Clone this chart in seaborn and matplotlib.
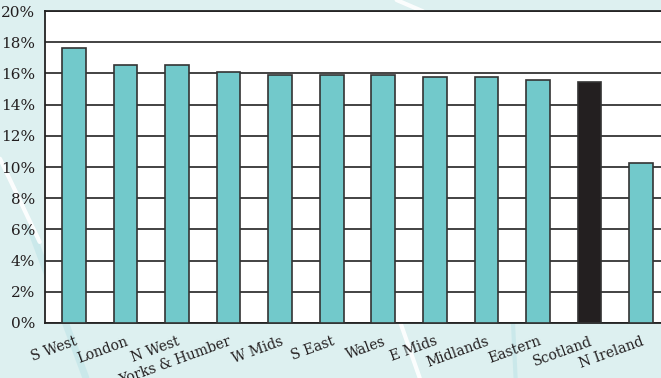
import matplotlib
matplotlib.use("Agg")
import matplotlib.pyplot as plt
import seaborn as sns
import pandas as pd
from matplotlib.ticker import FuncFormatter, MultipleLocator
from matplotlib.lines import Line2D

regions = ["S West", "London", "N West", "Yorks & Humber", "W Mids", "S East",
           "Wales", "E Mids", "Midlands", "Eastern", "Scotland", "N Ireland"]
values = [17.6, 16.55, 16.55, 16.1, 15.9, 15.9, 15.9, 15.8, 15.8, 15.6, 15.45, 10.25]
highlight = "Scotland"

teal = "#72C9CB"
dark = "#231F20"
bg = "#DDF0F0"

sns.set_theme(style="white")
plt.rcParams["font.family"] = ["DejaVu Serif"]

df = pd.DataFrame({"region": regions, "value": values})
palette = {r: (dark if r == highlight else teal) for r in regions}

fig = plt.figure(figsize=(6.61, 3.78), dpi=100)
fig.patch.set_facecolor(bg)

# decorative background strokes (figure fraction coords)
for (x0, y0, x1, y1, w, c) in [
        (0.045, 0.40, 0.13, 0.0, 5, "#C8E8EA"),
        (0.605, 0.15, 0.635, 0.0, 3, "white"),
        (0.776, 0.15, 0.78, 0.0, 3, "#C8E8EA"),
        (0.0, 0.58, 0.06, 0.36, 3, "white"),
        (0.60, 1.0, 0.64, 0.97, 3, "white")]:
    fig.add_artist(Line2D([x0, x1], [y0, y1], color=c, lw=w, alpha=0.9,
                          transform=fig.transFigure, zorder=0))

ax = fig.add_axes([45 / 661, 55 / 378, 625 / 661, 312 / 378])
ax.set_facecolor("white")
ax.set_zorder(1)

sns.barplot(data=df, x="region", y="value", hue="region", palette=palette,
            legend=False, width=0.46, edgecolor="#333333", linewidth=1.2,
            saturation=1, ax=ax, zorder=3)

ax.set_ylim(0, 20)
ax.set_xlim(-0.56, 11.56)
ax.yaxis.set_major_locator(MultipleLocator(2))
ax.yaxis.set_major_formatter(FuncFormatter(lambda v, p: f"{int(round(v))}%"))
ax.grid(axis="y", color="#222222", linewidth=1.2, zorder=0)
ax.set_axisbelow(True)
ax.spines["right"].set_visible(False)
for s in ["left", "bottom", "top"]:
    ax.spines[s].set_color("#222222")
    ax.spines[s].set_linewidth(1.3)
ax.set_xlabel("")
ax.set_ylabel("")
ax.tick_params(axis="both", length=0, colors="#231F20")
ax.tick_params(axis="y", labelsize=11, pad=7)
ax.tick_params(axis="x", labelsize=10, pad=8)
for lbl in ax.get_xticklabels():
    lbl.set_rotation(20)
    lbl.set_ha("right")
    lbl.set_rotation_mode("anchor")

fig.savefig("out.png", dpi=100, facecolor=bg)
